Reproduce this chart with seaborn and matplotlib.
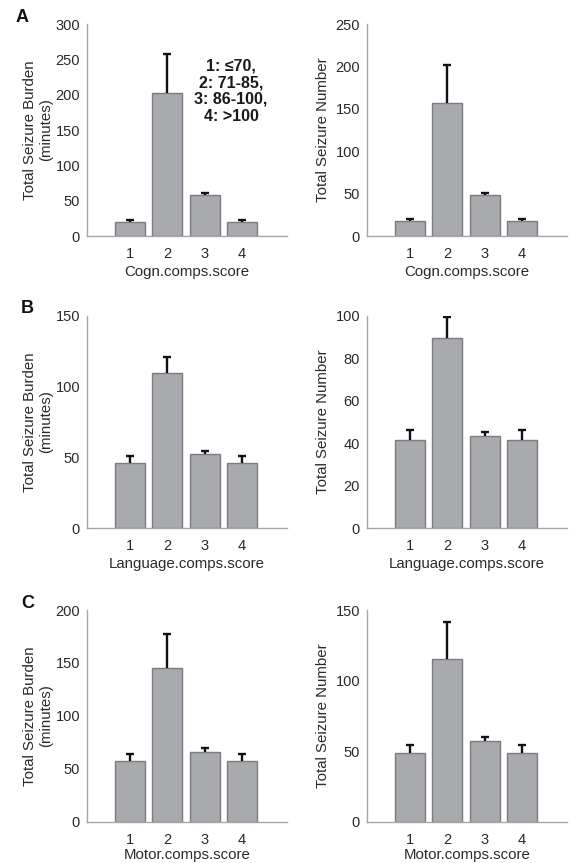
import numpy as np
import pandas as pd
import matplotlib
matplotlib.use("Agg")
import matplotlib.pyplot as plt
import seaborn as sns

sns.set_theme(style="white")
plt.rcParams['font.family'] = ['Liberation Sans', 'DejaVu Sans']

# ---------------- data ----------------
categories = ["1", "2", "3", "4"]

cogn_burden_mean = [19.5, 202.4, 58.3, 19.5]
cogn_burden_sem = [2.9, 55.0, 2.4, 2.9]
cogn_number_mean = [17.5, 157.2, 48.2, 17.5]
cogn_number_sem = [2.3, 44.4, 2.1, 2.3]

lang_burden_mean = [46.0, 109.3, 52.1, 46.0]
lang_burden_sem = [5.0, 11.6, 2.6, 5.0]
lang_number_mean = [41.6, 89.5, 43.2, 41.6]
lang_number_sem = [4.7, 9.7, 2.2, 4.7]

motor_burden_mean = [57.0, 145.3, 66.0, 57.0]
motor_burden_sem = [7.0, 32.0, 3.8, 7.0]
motor_number_mean = [48.3, 115.4, 56.8, 48.3]
motor_number_sem = [6.2, 26.1, 3.3, 6.2]

xlabels = ["Cogn.comps.score", "Language.comps.score", "Motor.comps.score"]
ylabel_burden = "Total Seizure Burden\n(minutes)"
ylabel_number = "Total Seizure Number"
panel_letters = ["A", "B", "C"]

burden_ticks = [[0, 50, 100, 150, 200, 250, 300], [0, 50, 100, 150], [0, 50, 100, 150, 200]]
number_ticks = [[0, 50, 100, 150, 200, 250], [0, 20, 40, 60, 80, 100], [0, 50, 100, 150]]

legend_text = "1: \u226470,\n2: 71-85,\n3: 86-100,\n4: >100"

rows = [
    (cogn_burden_mean, cogn_burden_sem, cogn_number_mean, cogn_number_sem),
    (lang_burden_mean, lang_burden_sem, lang_number_mean, lang_number_sem),
    (motor_burden_mean, motor_burden_sem, motor_number_mean, motor_number_sem),
]

# ---------------- layout ----------------
W, H = 573, 863
fig = plt.figure(figsize=(W / 100, H / 100), dpi=100)
fig.patch.set_facecolor("white")

row_tops = [24, 315.5, 610]
row_bots = [236, 528.3, 821.5]
col_lefts = [87, 367]
ax_w = 200
xlabel_pads = [2.5, 2.5, 0.8]

bar_face = "#a9aaae"
bar_edge = "#7c7c7e"
spine_col = "#a6a6a8"
text_col = "#2a2a2a"


def make_ax(left, top, bot):
    return fig.add_axes([left / W, (H - bot) / H, ax_w / W, (bot - top) / H])


def draw(ax, means, sems, ticks, xlabel, ylabel, ylab_x, xpad):
    df = pd.DataFrame({"score": categories, "value": means})
    sns.barplot(data=df, x="score", y="value", color=bar_face, edgecolor=bar_edge,
                linewidth=1.0, width=0.8, saturation=1, errorbar=None, ax=ax)
    pos = np.arange(len(categories))
    eb = ax.errorbar(pos, means, yerr=[np.zeros(len(sems)), sems], fmt="none",
                     ecolor="#111111", elinewidth=1.7, capsize=2.6, capthick=1.7, zorder=3)
    caps = eb[1]
    if len(caps) == 2:
        caps[0].set_visible(False)
    ax.set_xlim(-1.152, 4.205)
    ax.set_ylim(ticks[0], ticks[-1])
    ax.set_yticks(ticks)
    ax.set_yticklabels([str(t) for t in ticks])
    for s in ["top", "right"]:
        ax.spines[s].set_visible(False)
    for s in ["left", "bottom"]:
        ax.spines[s].set_color(spine_col)
        ax.spines[s].set_linewidth(1.0)
    ax.tick_params(axis="both", direction="in", length=2.5, width=0.8, color=spine_col,
                   labelsize=10.5, labelcolor=text_col)
    ax.tick_params(axis="x", pad=8)
    ax.tick_params(axis="y", pad=5)
    ax.set_xlabel(xlabel, fontsize=10.8, color=text_col, labelpad=xpad)
    ax.set_ylabel(ylabel, fontsize=10.8, color=text_col, linespacing=1.15)
    ax.yaxis.set_label_coords(ylab_x, 0.5)
    ax.set_facecolor("white")


for r, (bm, bs, nm, ns) in enumerate(rows):
    axl = make_ax(col_lefts[0], row_tops[r], row_bots[r])
    draw(axl, bm, bs, burden_ticks[r], xlabels[r], ylabel_burden, -0.17, xlabel_pads[r])
    axr = make_ax(col_lefts[1], row_tops[r], row_bots[r])
    draw(axr, nm, ns, number_ticks[r], xlabels[r], ylabel_number, -0.185, xlabel_pads[r])
    fig.text((16 if r == 0 else 21) / W, 1 - (row_tops[r] - 7) / H, panel_letters[r],
             fontsize=13, fontweight="bold", color="#111111", ha="left", va="center")
    if r == 0:
        axl.text(0.72, 0.684, legend_text, transform=axl.transAxes, ha="center", va="center",
                 fontsize=11.5, fontweight="bold", color="#1a1a1a", linespacing=1.16,
                 family=['Liberation Sans', 'DejaVu Sans'])

fig.savefig("out.png", dpi=100, facecolor="white")
